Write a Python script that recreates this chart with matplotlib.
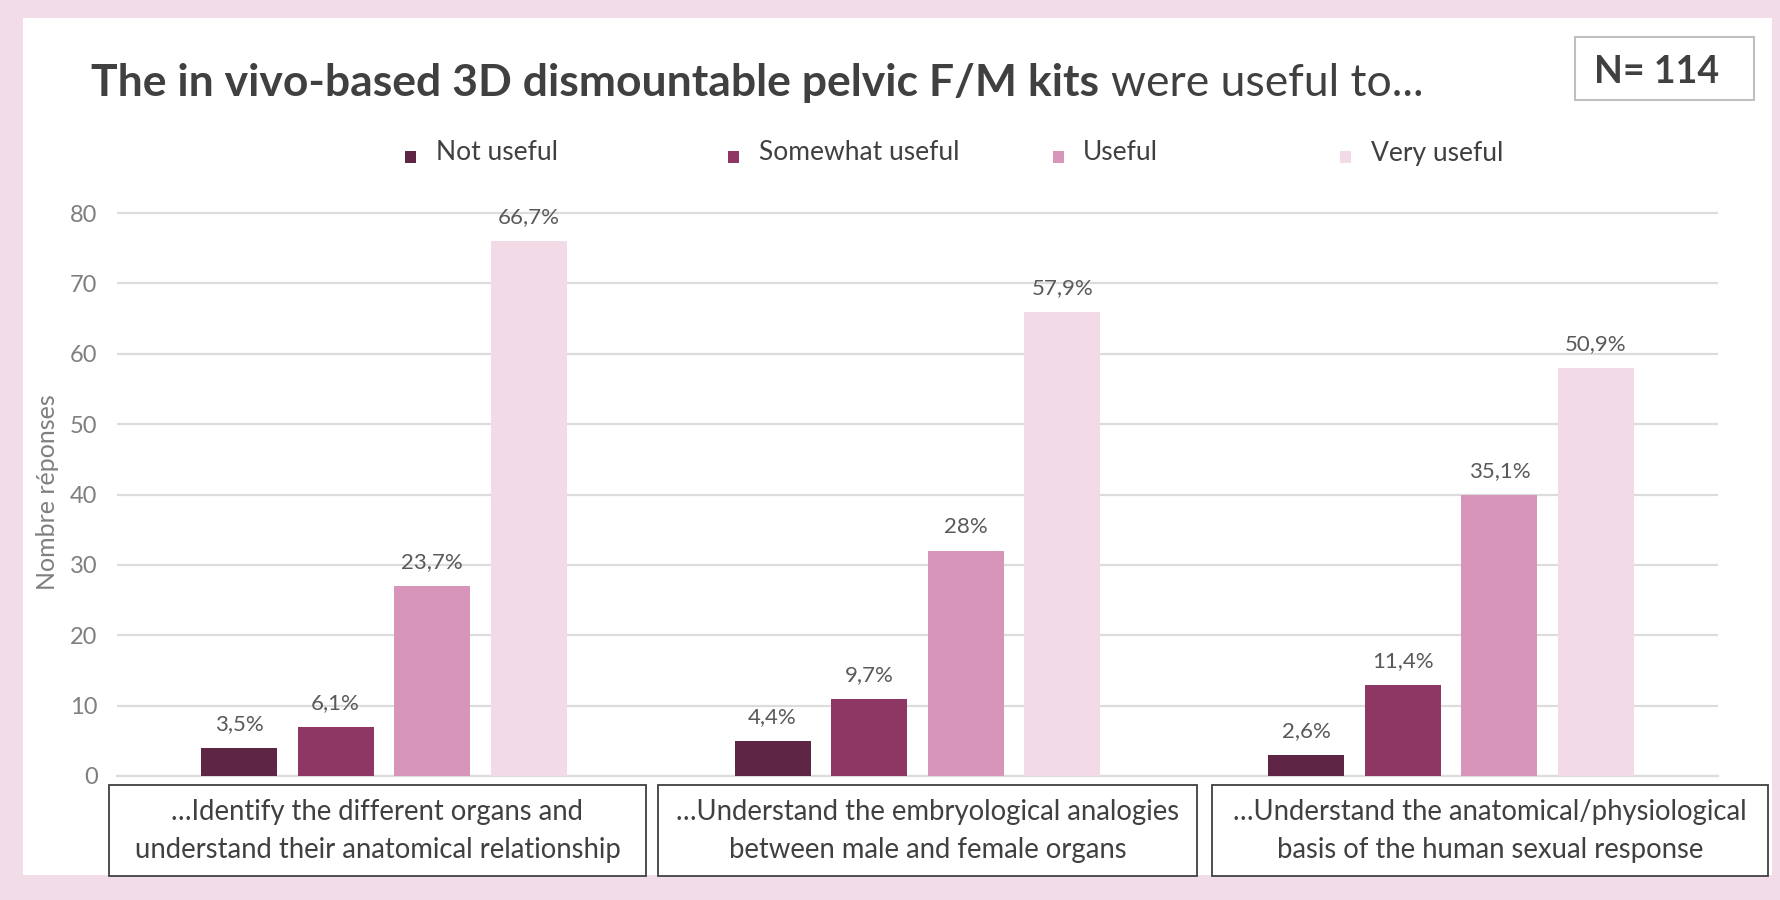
import matplotlib
matplotlib.use("Agg")
import matplotlib.pyplot as plt
from matplotlib.patches import Rectangle
import numpy as np

# ---------------- data ----------------
categories = [
    "\u2026Identify the different organs and\nunderstand their anatomical relationship",
    "\u2026Understand the embryological analogies\nbetween male and female organs",
    "\u2026Understand the anatomical/physiological\nbasis of the human sexual response",
]
series_names = ["Not useful", "Somewhat useful", "Useful", "Very useful"]
not_useful = [4, 5, 3]
somewhat_useful = [7, 11, 13]
useful = [27, 32, 40]
very_useful = [76, 66, 58]
not_useful_pct = ["3,5%", "4,4%", "2,6%"]
somewhat_useful_pct = ["6,1%", "9,7%", "11,4%"]
useful_pct = ["23,7%", "28%", "35,1%"]
very_useful_pct = ["66,7%", "57,9%", "50,9%"]
y_ticks = [0, 10, 20, 30, 40, 50, 60, 70, 80]
title_bold = "The in vivo-based 3D dismountable pelvic F/M kits"
title_regular = "were useful to..."
n_label = "N= 114"
y_label = "Nombre réponses"

series_values = [not_useful, somewhat_useful, useful, very_useful]
series_pcts = [not_useful_pct, somewhat_useful_pct, useful_pct, very_useful_pct]
colors = ["#5E2545", "#8F3764", "#D796B9", "#F2DAE7"]

# ---------------- figure ----------------
FONT = "Lato"
plt.rcParams["font.family"] = [FONT, "DejaVu Sans"]
W, H = 1781, 900
fig = plt.figure(figsize=(W / 100, H / 100), dpi=100, facecolor="#F2DCE8")


def fx(px):
    return px / W


def fy(py):
    return 1 - py / H


# white panel
fig.patches.append(Rectangle((fx(23), fy(875)), fx(1772) - fx(23), fy(18) - fy(875),
                             transform=fig.transFigure, fc="white", ec="none", zorder=-5))

# axes
y_top_val = 81
px_per_unit = (776 - 213) / 80
ax_top_px = 776 - y_top_val * px_per_unit
ax = fig.add_axes([fx(117), fy(776), fx(1718) - fx(117), fy(ax_top_px) - fy(776)])
ax.set_facecolor("none")
ax.set_zorder(1)

x = np.arange(len(categories))
step = 0.181
width = 0.1425
for i, (vals, pcts, col) in enumerate(zip(series_values, series_pcts, colors)):
    xpos = x + (i - 1.5) * step
    ax.bar(xpos, vals, width=width, color=col, edgecolor="none", zorder=3)
    for xp, v, p in zip(xpos, vals, pcts):
        ax.annotate(p, (xp, v), xytext=(0, 10), textcoords="offset points",
                    ha="center", va="bottom", fontsize=16, color="#595959")

ax.set_xlim(-0.5, 2.5)
ax.set_ylim(0, y_top_val)
ax.set_yticks(y_ticks)
ax.set_xticks([])
ax.yaxis.grid(True, color="#DCDCDC", lw=1.6)
ax.set_axisbelow(True)
for s in ["top", "right", "left"]:
    ax.spines[s].set_visible(False)
ax.spines["bottom"].set_color("#DCDCDC")
ax.spines["bottom"].set_linewidth(1.6)
ax.tick_params(axis="y", length=0, pad=14, labelsize=17, labelcolor="#7F7F7F")

# y label
fig.text(fx(48), fy(492), y_label, rotation=90, ha="center", va="center",
         fontsize=18, color="#7F7F7F")

# category boxes
boxes = [(109, 646), (658, 1197), (1212, 1768)]
for (x0, x1), cat in zip(boxes, categories):
    fig.patches.append(Rectangle((fx(x0), fy(876)), fx(x1) - fx(x0), fy(785) - fy(876),
                                 transform=fig.transFigure, fc="white", ec="#404040",
                                 lw=1.3, zorder=2))
    fig.text(fx((x0 + x1) / 2), fy(831), cat, ha="center", va="center",
             fontsize=19.8, color="#404040", linespacing=1.56, zorder=3)

# legend
sq_left = [405, 728, 1053, 1340]
txt_left = [436, 759, 1083, 1371]
for name, col, sl, tl in zip(series_names, colors, sq_left, txt_left):
    fig.patches.append(Rectangle((fx(sl), fy(163)), fx(11), fy(151) - fy(163),
                                 transform=fig.transFigure, fc=col, ec="none"))
    fig.text(fx(tl), fy(153), name, ha="left", va="center", fontsize=19, color="#404040")

# N box
fig.patches.append(Rectangle((fx(1575), fy(100)), fx(1754) - fx(1575), fy(37) - fy(100),
                             transform=fig.transFigure, fc="white", ec="#BFBFBF", lw=1.5))
fig.text(fx(1657), fy(72), n_label, ha="center", va="center", fontsize=27,
         fontweight="bold", color="#404040")

# title
t1 = fig.text(fx(91), fy(83), title_bold, ha="left", va="center", fontsize=32,
              fontweight="bold", color="#404040")
fig.canvas.draw()
bb = t1.get_window_extent()
fig.text(bb.x1 / W + fx(12), fy(83), title_regular, ha="left", va="center",
         fontsize=32, color="#404040")

fig.savefig("out.png", dpi=100, facecolor=fig.get_facecolor())
